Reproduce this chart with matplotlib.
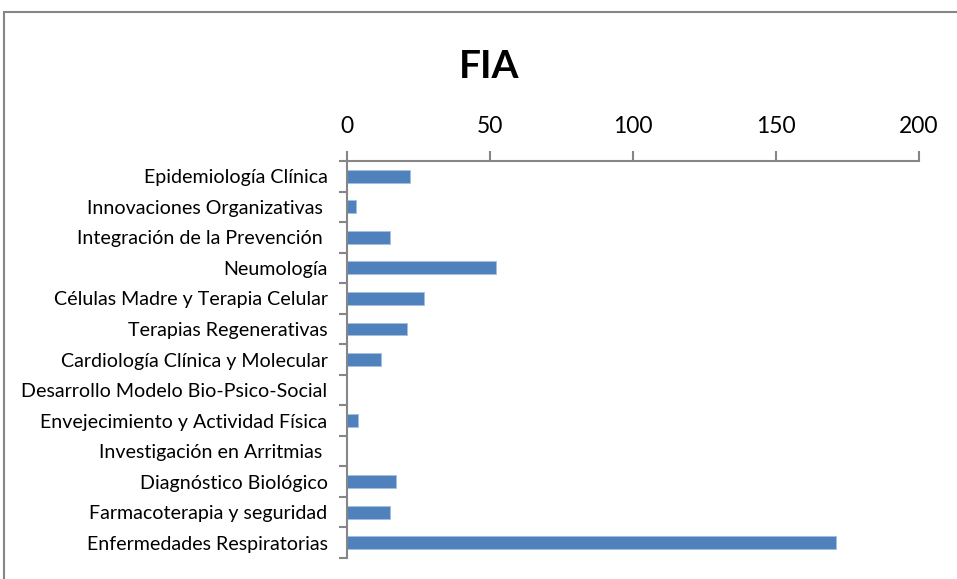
import matplotlib.pyplot as plt
from matplotlib.patches import Rectangle
import numpy as np

plt.rcParams['font.family'] = ['Lato', 'DejaVu Sans']

categorias = [
    'Epidemiología Clínica',
    'Innovaciones Organizativas ',
    'Integración de la Prevención ',
    'Neumología',
    'Células Madre y Terapia Celular',
    'Terapias Regenerativas',
    'Cardiología Clínica y Molecular',
    'Desarrollo Modelo Bio-Psico-Social',
    'Envejecimiento y Actividad Física',
    'Investigación en Arritmias ',
    'Diagnóstico Biológico',
    'Farmacoterapia y seguridad',
    'Enfermedades Respiratorias',
]
valores = [22, 3, 15, 52, 27, 21, 12, 0, 4, 0, 17, 15, 171]
ticks_x = [0, 50, 100, 150, 200]

fig = plt.figure(figsize=(9.57, 5.79), dpi=100)
ax = fig.add_axes([347 / 957, 1 - 558 / 579, (919 - 347) / 957, (558 - 161) / 579])

y = np.arange(len(categorias))
ax.barh(y, valores, height=0.42, color='#4F81BD', edgecolor='#A7BFDE', linewidth=0.6)
ax.set_ylim(len(categorias) - 0.5, -0.5)
ax.set_xlim(0, 200)

ax.set_yticks(y)
ax.set_yticklabels(categorias, fontsize=14.1)
ax.set_yticks(np.arange(len(categorias) + 1) - 0.5, minor=True)
ax.tick_params(axis='y', which='major', length=0, pad=14)
ax.tick_params(axis='y', which='minor', length=6, width=1.5, color='#868686', direction='out')

ax.xaxis.tick_top()
ax.set_xticks(ticks_x)
ax.set_xticklabels([str(t) for t in ticks_x], fontsize=16.5)
ax.tick_params(axis='x', length=7, width=1.5, color='#868686', direction='out', pad=10)

for s in ['bottom', 'right']:
    ax.spines[s].set_visible(False)
for s in ['top', 'left']:
    ax.spines[s].set_color('#868686')
    ax.spines[s].set_linewidth(1.5)

fig.text(489 / 957, 1 - 66 / 579, 'FIA', fontsize=28, fontweight='bold', ha='center', va='center')

fig.patches.append(Rectangle((4 / 957, -0.1), 1.1, 1 - 12 / 579 + 0.1, transform=fig.transFigure,
                             fill=False, edgecolor='#868686', linewidth=1.5))

fig.savefig('out.png', dpi=100)
